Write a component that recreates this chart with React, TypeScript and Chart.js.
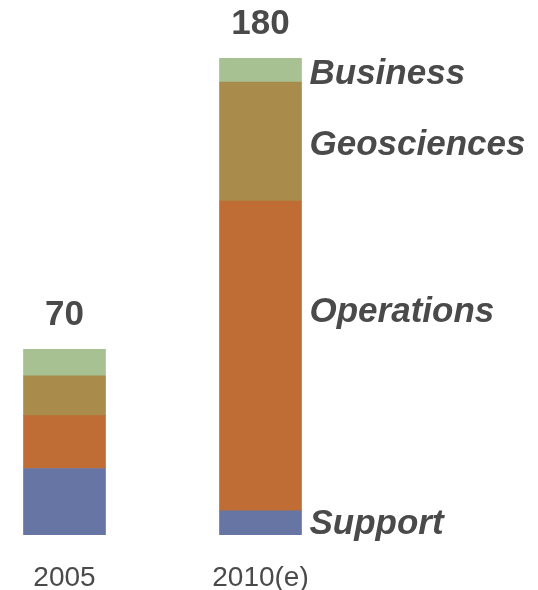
import React, { useEffect, useRef } from "react";
import { Chart, registerables } from "chart.js";

Chart.register(...registerables);

const categories = ["2005", "2010(e)"];
const seriesNames = ["Support", "Operations", "Geosciences", "Business"];
const support = [25, 9];
const operations = [20, 117];
const geosciences = [15, 45];
const business = [10, 9];

const colors = ["#6675A3", "#BF6D35", "#A98C4B", "#A7C192"];
const textColor = "#4A4A4A";
const fontFamily = '"Liberation Sans", Arial, sans-serif';

const labelPlugin = {
  id: "customLabels",
  afterDatasetsDraw(chart: any, _args: any, opts: any) {
    const ctx = chart.ctx;
    const yScale = chart.scales.y;
    const xScale = chart.scales.x;
    const nData = chart.data.datasets.length;
    const topMeta = chart.getDatasetMeta(nData - 1);
    ctx.save();
    ctx.fillStyle = textColor;
    // totals above bars
    ctx.font = `bold 35px ${fontFamily}`;
    ctx.textAlign = "center";
    ctx.textBaseline = "alphabetic";
    categories.forEach((_c, i) => {
      let total = 0;
      chart.data.datasets.forEach((ds: any) => (total += ds.data[i]));
      const el = topMeta.data[i];
      ctx.fillText(String(total), el.x, el.y - 24);
    });
    // category labels
    ctx.font = `28px ${fontFamily}`;
    categories.forEach((c, i) => {
      const x = xScale.getPixelForValue(i);
      ctx.fillText(c, x, 585.5);
    });
    // series labels beside last bar
    ctx.font = `italic bold 35px ${fontFamily}`;
    ctx.textAlign = "left";
    const last = categories.length - 1;
    chart.data.datasets.forEach((ds: any, di: number) => {
      const el = chart.getDatasetMeta(di).data[last];
      const x = el.x + el.width / 2 + 8;
      const y = yScale.getPixelForValue(opts.anchors[di]) + 12.5;
      ctx.fillText(ds.label, x, y);
    });
    ctx.restore();
  },
};

export default function App() {
  const ref = useRef<HTMLCanvasElement>(null);
  useEffect(() => {
    if (!ref.current) return;
    const values = [support, operations, geosciences, business];
    const chart = new Chart(ref.current, {
      type: "bar",
      data: {
        labels: categories,
        datasets: seriesNames.map((name, i) => ({
          label: name,
          data: values[i],
          backgroundColor: colors[i],
          borderWidth: 0,
          barThickness: 82,
          clip: false as any,
        })),
      },
      options: {
        animation: false,
        responsive: true,
        maintainAspectRatio: false,
        layout: { padding: { left: 64.5, right: 277.5, top: 5.3, bottom: 55.3 } },
        scales: {
          x: {
            type: "category",
            stacked: true,
            offset: false,
            display: false,
            grid: { offset: false },
          },
          y: { stacked: true, min: 0, max: 200, display: false },
        },
        plugins: {
          legend: { display: false },
          tooltip: { enabled: false },
          customLabels: { anchors: [5, 85, 148, 175] },
        } as any,
      },
      plugins: [labelPlugin],
    });
    return () => chart.destroy();
  }, []);
  return (
    <div style={{ position: "absolute", left: 0, top: 0, width: 538, height: 590, background: "#fff" }}>
      <canvas ref={ref} />
    </div>
  );
}
